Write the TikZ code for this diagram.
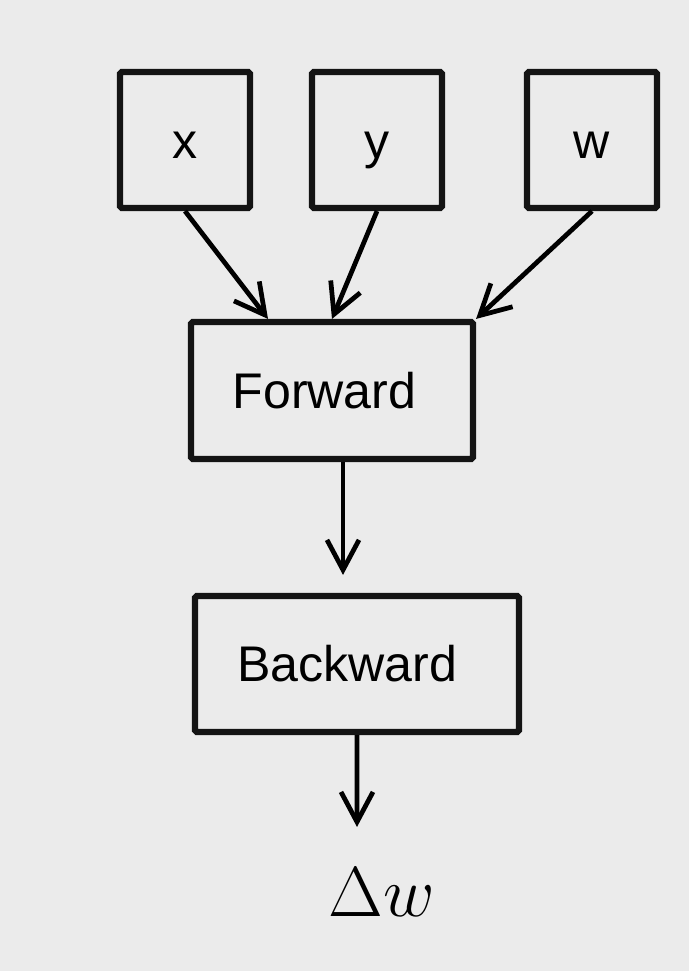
\documentclass[tikz,border=0pt]{standalone}
\usepackage{fontspec}
\setmainfont{Liberation Sans}
\usepackage{amsmath}
\usetikzlibrary{arrows.meta}
\definecolor{bggray}{RGB}{235,235,235}

\begin{document}
\begin{tikzpicture}[->, >={Straight Barb[length=6mm,width=6.4mm]}, line width=2.7pt]
   \fill[bggray] (0,0) rectangle (13.78,-19.42);
   \useasboundingbox (0,0) rectangle (13.78,-19.42);
   \fontsize{28.5}{34}\selectfont
   \tikzstyle{main}=[rectangle, draw=black!92, line width=3.5pt, rounded corners=1pt]
   \tikzstyle{input}=[main, minimum width=2.6cm, minimum height=2.72cm, text height=0.72em, text depth=0pt]
   \foreach \name/\word/\xpos in {xin/x/3.70, yin/y/7.54, win/w/11.84} {
       \node[input] (\name) at (\xpos,-2.80) {\word};
   }
   \node[main, minimum width=5.64cm, minimum height=2.74cm] (fwd) at (6.64,-7.81) {\hspace*{-0.3cm}Forward};
   \node[main, minimum width=6.48cm, minimum height=2.72cm] (bwd) at (7.14,-13.28) {\hspace*{-0.4cm}Backward};
   \node[inner sep=0pt, scale=1.62] (dw) at (7.64,-17.84) {\Huge $\Delta w$};
   \path (xin.south) edge ([xshift=-1.28cm]fwd.north);
   \path (yin.south) edge (fwd.north);
   \path (win.south) edge (fwd.north east);
   \path ([xshift=0.22cm]fwd.south) edge[shorten >=0.36cm] ([xshift=-0.28cm]bwd.north);
   \path (bwd.south) edge[shorten >=0.74cm] ([xshift=-0.5cm]dw.north);
\end{tikzpicture}
\end{document}
